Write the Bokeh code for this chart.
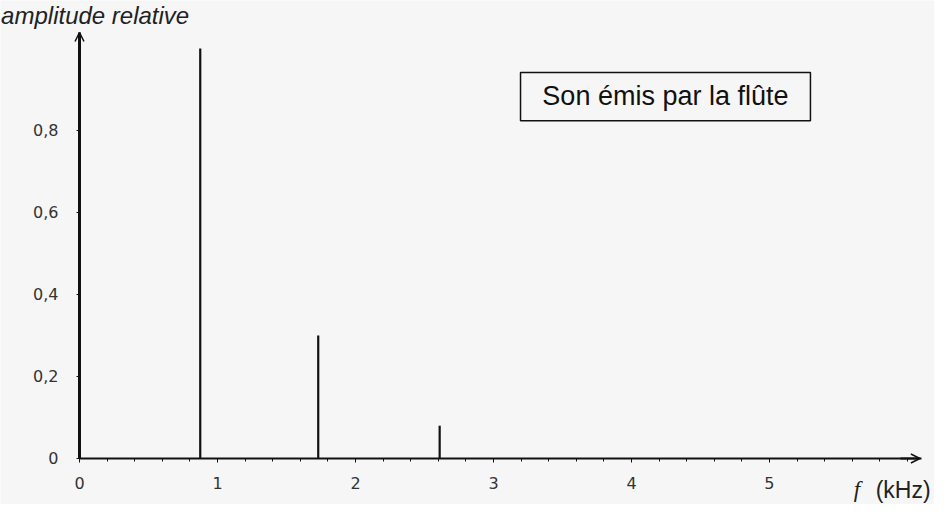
from bokeh.plotting import figure
from bokeh.models import Range1d, Label, BoxAnnotation, Arrow, OpenHead, FixedTicker, LinearAxis
from bokeh.embed import file_html
from bokeh.resources import INLINE

# ---- data ----
freq_khz = [0.875, 1.73, 2.61]
amplitude = [1.0, 0.30, 0.08]
x_ticks = [0, 1, 2, 3, 4, 5]
x_tick_labels = ["0", "1", "2", "3", "4", "5"]
y_ticks = [0, 0.2, 0.4, 0.6, 0.8]
y_tick_labels = ["0", "0,2", "0,4", "0,6", "0,8"]
legend_text = "Son émis par la flûte"
y_label = "amplitude relative"
x_label_var = "f"
x_label_unit = "(kHz)"

BG = "#f6f6f6"
INK = "#111111"
X_END = 6.10
Y_END = 1.039

p = figure(frame_width=934, frame_height=504,
           x_range=Range1d(-0.5725, 6.196), y_range=Range1d(-0.1122, 1.117),
           output_backend="svg", toolbar_location=None, title_location=None,
           x_axis_location=None, y_axis_location=None,
           min_border=0)
p.background_fill_color = BG
p.border_fill_color = BG
p.outline_line_color = None
p.xgrid.visible = False
p.ygrid.visible = False

p.segment(x0=freq_khz, y0=[0] * len(freq_khz), x1=freq_khz, y1=amplitude,
          line_color=INK, line_width=2.2)

# x axis
xa = LinearAxis(fixed_location=0, bounds=(0, X_END))
xa.ticker = FixedTicker(ticks=x_ticks, minor_ticks=[i / 5 for i in range(0, 31)])
xa.major_label_overrides = {t: l for t, l in zip(x_ticks, x_tick_labels)}
xa.axis_line_width = 2
xa.axis_line_color = INK
xa.major_tick_in = 0
xa.major_tick_out = 4
xa.minor_tick_in = 0
xa.minor_tick_out = 3
xa.major_tick_line_color = INK
xa.minor_tick_line_color = INK
xa.major_label_standoff = 15
xa.major_label_text_font = "DejaVu Sans"
xa.major_label_text_font_size = "16px"
xa.major_label_text_color = "#333333"
p.add_layout(xa, "below")

# y axis
ya = LinearAxis(fixed_location=0, bounds=(0, Y_END))
ya.ticker = FixedTicker(ticks=y_ticks)
ya.major_label_overrides = {t: l for t, l in zip(y_ticks, y_tick_labels)}
ya.axis_line_width = 3
ya.axis_line_color = INK
ya.major_tick_in = 0
ya.major_tick_out = 3
ya.minor_tick_out = 0
ya.minor_tick_in = 0
ya.major_tick_line_color = INK
ya.major_label_standoff = 18
ya.major_label_text_font = "DejaVu Sans"
ya.major_label_text_font_size = "16px"
ya.major_label_text_color = "#333333"
p.add_layout(ya, "left")

# arrow heads on axes
p.add_layout(Arrow(end=OpenHead(size=9, line_width=1.5, line_color=INK),
                   x_start=0, y_start=0.99, x_end=0, y_end=Y_END,
                   line_color=INK, line_width=2))
p.add_layout(Arrow(end=OpenHead(size=9, line_width=1.5, line_color=INK),
                   x_start=5.95, y_start=0, x_end=X_END - 0.01, y_end=0,
                   line_color=INK, line_width=2))

# legend box
p.add_layout(BoxAnnotation(left=3.196, right=5.297, top=0.9415, bottom=0.824,
                           fill_alpha=0, line_color=INK, line_width=1.5, line_alpha=1))
p.add_layout(Label(x=4.246, y=0.883, text=legend_text, text_align="center",
                   text_baseline="middle", text_font="Liberation Sans",
                   text_font_size="27px", text_color=INK))

# axis labels
p.add_layout(Label(x=-0.568, y=1.080, text=y_label, text_align="left",
                   text_baseline="middle", text_font="Liberation Sans",
                   text_font_style="italic", text_font_size="24px", text_color="#222222"))
p.add_layout(Label(x=5.61, y=-0.076, text=x_label_var, text_align="left",
                   text_baseline="middle", text_font="Liberation Serif",
                   text_font_style="italic", text_font_size="23px", text_color="#222222"))
p.add_layout(Label(x=5.77, y=-0.076, text=x_label_unit, text_align="left",
                   text_baseline="middle", text_font="Liberation Sans",
                   text_font_size="23px", text_color="#222222"))

open("out.html", "w").write(file_html(p, INLINE))
